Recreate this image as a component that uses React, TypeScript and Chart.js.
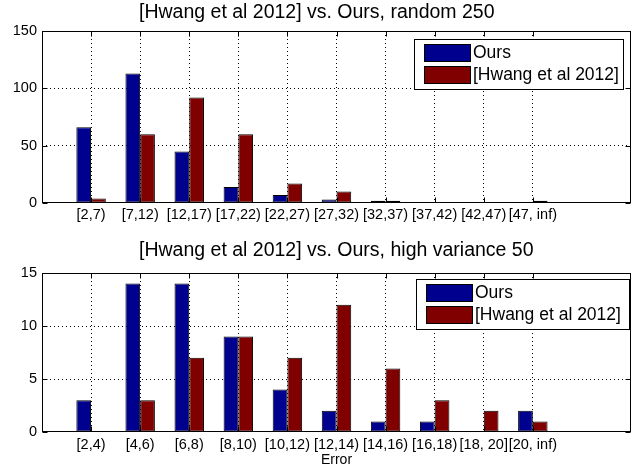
import React, { useEffect, useRef } from 'react';
import { Chart, registerables } from 'chart.js';

Chart.register(...registerables);

const FONT = "'Liberation Sans', Arial, Helvetica, sans-serif";

const seriesNames = ['Ours', '[Hwang et al 2012]'];
const seriesColors = ['#00008f', '#800000'];

const topTitle = '[Hwang et al 2012] vs. Ours, random 250';
const topCategories = ['[2,7)', '[7,12)', '[12,17)', '[17,22)', '[22,27)', '[27,32)', '[32,37)', '[37,42)', '[42,47)', '[47, inf)'];
const topOurs = [66, 113, 45, 14, 7, 3, 2, 0, 0, 0];
const topHwang = [4, 60, 92, 60, 17, 10, 2, 0, 0, 2];
const topYTicks = [0, 50, 100, 150];

const bottomTitle = '[Hwang et al 2012] vs. Ours, high variance 50';
const bottomCategories = ['[2,4)', '[4,6)', '[6,8)', '[8,10)', '[10,12)', '[12,14)', '[14,16)', '[16,18)', '[18, 20]', '[20, inf)'];
const bottomOurs = [3, 14, 14, 9, 4, 2, 1, 1, 0, 2];
const bottomHwang = [0, 3, 7, 9, 7, 12, 6, 3, 2, 1];
const bottomYTicks = [0, 5, 10, 15];
const bottomXTitle = 'Error';

const framePlugin = {
  id: 'matlabFrame',
  afterDatasetsDraw(chart: any) {
    const { ctx, chartArea: a, scales } = chart;
    ctx.save();
    ctx.strokeStyle = '#000';
    ctx.lineWidth = 1;
    const L = Math.round(a.left) + 0.5;
    const R = Math.round(a.right) - 0.5;
    const T = Math.round(a.top) + 0.5;
    const B = Math.round(a.bottom) - 0.5;
    ctx.strokeRect(L, T, R - L, B - T);
    const tl = 5;
    ctx.beginPath();
    scales.x.ticks.forEach((t: any, i: number) => {
      if (!t.label) return;
      const px = Math.round(scales.x.getPixelForTick(i)) + 0.5;
      ctx.moveTo(px, B);
      ctx.lineTo(px, B - tl);
      ctx.moveTo(px, T);
      ctx.lineTo(px, T + tl);
    });
    scales.y.ticks.forEach((t: any) => {
      const py = Math.round(scales.y.getPixelForValue(t.value)) + 0.5;
      ctx.moveTo(L, py);
      ctx.lineTo(L + tl, py);
      ctx.moveTo(R, py);
      ctx.lineTo(R - tl, py);
    });
    ctx.stroke();
    ctx.restore();
  },
};

const titlePlugin = {
  id: 'leftTitle',
  afterDraw(chart: any, _args: any, o: any) {
    const { ctx } = chart;
    ctx.save();
    ctx.fillStyle = '#000';
    ctx.font = `${o.size}px ${FONT}`;
    ctx.textAlign = 'left';
    ctx.textBaseline = 'alphabetic';
    ctx.fillText(o.text, o.x, o.baseline);
    ctx.restore();
  },
};

const legendPlugin = {
  id: 'boxLegend',
  afterDraw(chart: any, _args: any, o: any) {
    const { ctx } = chart;
    ctx.save();
    ctx.fillStyle = '#fff';
    ctx.fillRect(o.x, o.y, o.w, o.h);
    ctx.strokeStyle = '#000';
    ctx.lineWidth = 1;
    ctx.strokeRect(o.x + 0.5, o.y + 0.5, o.w, o.h);
    chart.data.datasets.forEach((ds: any, i: number) => {
      const sy = o.y + o.pad + i * (o.sh + o.gap);
      const sx = o.x + 10;
      ctx.fillStyle = ds.backgroundColor;
      ctx.fillRect(sx, sy, o.sw, o.sh);
      ctx.strokeStyle = '#000';
      ctx.strokeRect(sx + 0.5, sy + 0.5, o.sw, o.sh);
      ctx.fillStyle = '#000';
      ctx.font = `${o.font}px ${FONT}`;
      ctx.textBaseline = 'middle';
      ctx.textAlign = 'left';
      ctx.fillText(ds.label, sx + o.sw + 3, sy + o.sh / 2 + 1);
    });
    ctx.restore();
  },
};

type Spec = {
  title: string;
  categories: string[];
  ours: number[];
  hwang: number[];
  yTicks: number[];
  xTitle?: string;
  width: number;
  height: number;
  areaTop: number;
  titleBaseline: number;
  xHeight: number;
  xTickPad: number;
  legend: any;
};

function buildConfig(spec: Spec): any {
  const labels = ['', ...spec.categories, '', ''];
  const pad = (arr: number[]) => [null, ...arr, null, null];
  const yMax = spec.yTicks[spec.yTicks.length - 1];
  const tickFont = { family: FONT, size: 14.5 };
  return {
    type: 'bar',
    data: {
      labels,
      datasets: [
        { label: seriesNames[0], data: pad(spec.ours), backgroundColor: seriesColors[0], borderColor: '#000', borderWidth: 1, borderSkipped: false, categoryPercentage: 0.6, barPercentage: 1 },
        { label: seriesNames[1], data: pad(spec.hwang), backgroundColor: seriesColors[1], borderColor: '#000', borderWidth: 1, borderSkipped: false, categoryPercentage: 0.6, barPercentage: 1 },
      ],
    },
    options: {
      responsive: false,
      animation: false,
      layout: { padding: { left: 0, right: 5, top: spec.areaTop, bottom: 0 } },
      plugins: {
        legend: { display: false },
        tooltip: { enabled: false },
        title: { display: false },
        leftTitle: { text: spec.title, x: 139, baseline: spec.titleBaseline, size: 19.5 },
        boxLegend: spec.legend,
      },
      scales: {
        x: {
          type: 'category',
          offset: false,
          grid: {
            offset: false,
            drawTicks: false,
            lineWidth: 1,
            color: (c: any) => (c.tick && c.tick.label ? '#000' : 'rgba(0,0,0,0)'),
          },
          border: { display: false, dash: [1, 3] },
          ticks: { autoSkip: false, maxRotation: 0, minRotation: 0, color: '#000', padding: spec.xTickPad, font: tickFont },
          title: spec.xTitle
            ? { display: true, text: spec.xTitle, color: '#000', font: { family: FONT, size: 14 }, padding: { top: 0, bottom: 0 } }
            : { display: false },
          afterFit: (s: any) => {
            s.height = spec.xHeight;
          },
        },
        y: {
          min: 0,
          max: yMax,
          grid: {
            drawTicks: false,
            lineWidth: 1,
            color: (c: any) => (c.tick && (c.tick.value === 0 || c.tick.value === yMax) ? 'rgba(0,0,0,0)' : '#000'),
          },
          border: { display: false, dash: [1, 3] },
          ticks: { color: '#000', padding: 5, font: tickFont },
          afterBuildTicks: (s: any) => {
            s.ticks = spec.yTicks.map((v) => ({ value: v }));
          },
          afterFit: (s: any) => {
            s.width = 42;
          },
        },
      },
    },
    plugins: [framePlugin, legendPlugin, titlePlugin],
  };
}

function Panel({ spec, top }: { spec: Spec; top: number }) {
  const ref = useRef<HTMLCanvasElement>(null);
  useEffect(() => {
    if (!ref.current) return;
    const chart = new Chart(ref.current, buildConfig(spec));
    return () => chart.destroy();
  }, []);
  return (
    <div style={{ position: 'absolute', left: 0, top, width: spec.width, height: spec.height }}>
      <canvas ref={ref} width={spec.width} height={spec.height} style={{ display: 'block' }} />
    </div>
  );
}

const topSpec: Spec = {
  title: topTitle,
  categories: topCategories,
  ours: topOurs,
  hwang: topHwang,
  yTicks: topYTicks,
  width: 636,
  height: 235,
  areaTop: 31,
  titleBaseline: 17.5,
  xHeight: 32,
  xTickPad: 3,
  legend: { x: 414, y: 39, w: 209, h: 50, pad: 5, sw: 46, sh: 17, gap: 5, font: 17.5 },
};

const bottomSpec: Spec = {
  title: bottomTitle,
  categories: bottomCategories,
  ours: bottomOurs,
  hwang: bottomHwang,
  yTicks: bottomYTicks,
  xTitle: bottomXTitle,
  width: 636,
  height: 234,
  areaTop: 38,
  titleBaseline: 21,
  xHeight: 37,
  xTickPad: 4.5,
  legend: { x: 416, y: 44, w: 213, h: 50, pad: 5, sw: 46, sh: 17, gap: 5, font: 17.5 },
};

export default function App() {
  return (
    <div style={{ position: 'absolute', left: 0, top: 0, width: 636, height: 469, background: '#fff' }}>
      <Panel spec={topSpec} top={0} />
      <Panel spec={bottomSpec} top={235} />
    </div>
  );
}
